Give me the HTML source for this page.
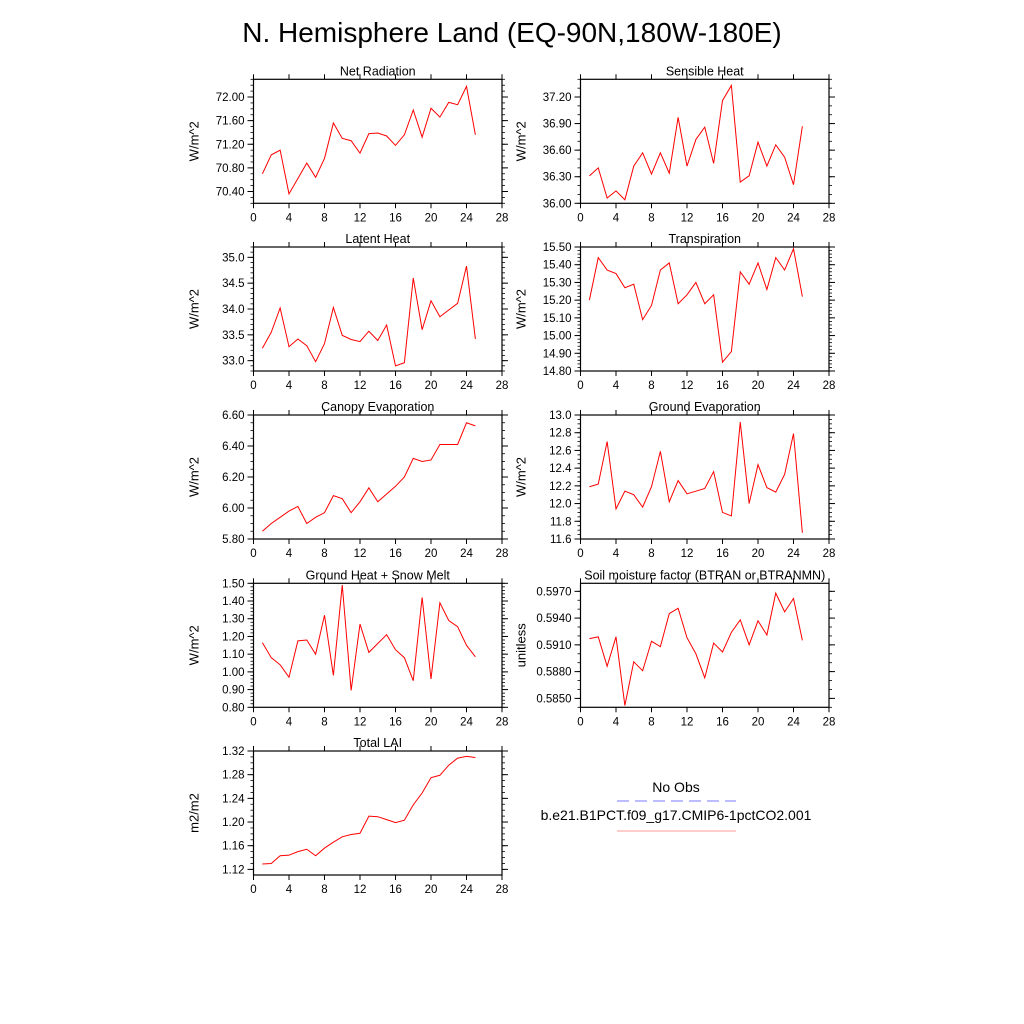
<!DOCTYPE html>
<html><head><meta charset="utf-8"><style>
html,body{margin:0;padding:0;background:#fff;}
svg{display:block;font-family:"Liberation Sans",Arial,sans-serif;}
</style></head><body>
<svg id="c" width="1024" height="1024" viewBox="0 0 1024 1024">
<text x="512" y="42" text-anchor="middle" font-size="28">N. Hemisphere Land (EQ-90N,180W-180E)</text>
<g>
<text x="676" y="792" text-anchor="middle" font-size="14">No Obs</text>
<line x1="617" y1="801" x2="736" y2="801" stroke="#7a7aff" stroke-width="1" stroke-dasharray="12,6"/>
<text x="676" y="820" text-anchor="middle" font-size="14">b.e21.B1PCT.f09_g17.CMIP6-1pctCO2.001</text>
<line x1="617" y1="831" x2="736" y2="831" stroke="#f99" stroke-width="1"/>
</g>
</svg>
<script>
const years = [1,2,3,4,5,6,7,8,9,10,11,12,13,14,15,16,17,18,19,20,21,22,23,24,25];
const xTicks = [0,4,8,12,16,20,24,28];
const netRad = [70.70,71.02,71.10,70.36,70.62,70.88,70.64,70.96,71.56,71.30,71.26,71.05,71.38,71.39,71.34,71.18,71.36,71.78,71.32,71.81,71.66,71.91,71.87,72.18,71.36];
const sensible = [36.31,36.40,36.06,36.14,36.04,36.42,36.57,36.33,36.57,36.34,36.97,36.42,36.72,36.86,36.45,37.16,37.33,36.24,36.31,36.69,36.42,36.66,36.52,36.21,36.87];
const latent = [33.24,33.55,34.02,33.27,33.42,33.29,32.98,33.33,34.03,33.49,33.41,33.37,33.57,33.39,33.69,32.90,32.96,34.60,33.60,34.16,33.85,33.98,34.11,34.83,33.42];
const transp = [15.20,15.44,15.37,15.35,15.27,15.29,15.09,15.17,15.37,15.41,15.18,15.23,15.30,15.18,15.23,14.85,14.91,15.36,15.29,15.41,15.26,15.44,15.37,15.49,15.22];
const canopy = [5.85,5.90,5.94,5.98,6.01,5.90,5.94,5.97,6.08,6.06,5.97,6.04,6.13,6.04,6.09,6.14,6.20,6.32,6.30,6.31,6.41,6.41,6.41,6.55,6.53];
const groundEvap = [12.19,12.22,12.70,11.94,12.14,12.10,11.96,12.19,12.59,12.02,12.26,12.11,12.14,12.17,12.36,11.90,11.86,12.92,12.00,12.44,12.18,12.13,12.33,12.79,11.67];
const groundHeat = [1.165,1.08,1.04,0.97,1.175,1.18,1.10,1.32,0.98,1.49,0.895,1.27,1.11,1.16,1.21,1.125,1.08,0.95,1.42,0.96,1.39,1.29,1.255,1.15,1.085];
const soilMoist = [0.5917,0.5919,0.5886,0.5919,0.5842,0.5891,0.5881,0.5914,0.5908,0.5945,0.5951,0.5918,0.5900,0.5873,0.5912,0.5902,0.5924,0.5938,0.5910,0.5937,0.5921,0.5968,0.5947,0.5962,0.5915];
const lai = [1.129,1.130,1.143,1.144,1.150,1.154,1.143,1.156,1.166,1.175,1.179,1.181,1.210,1.209,1.204,1.199,1.203,1.229,1.249,1.275,1.279,1.296,1.308,1.311,1.309];

const panels = [
 {name:'net-radiation',title:'Net Radiation',unit:'W/m^2',data:netRad,col:0,row:0,ymin:70.2,ymax:72.3,t0:70.4,step:0.4,minor:0.1,dec:2},
 {name:'sensible-heat',title:'Sensible Heat',unit:'W/m^2',data:sensible,col:1,row:0,ymin:36.0,ymax:37.4,t0:36.0,step:0.3,minor:0.1,dec:2},
 {name:'latent-heat',title:'Latent Heat',unit:'W/m^2',data:latent,col:0,row:1,ymin:32.8,ymax:35.2,t0:33.0,step:0.5,minor:0.1,dec:1},
 {name:'transpiration',title:'Transpiration',unit:'W/m^2',data:transp,col:1,row:1,ymin:14.8,ymax:15.5,t0:14.8,step:0.1,minor:0.02,dec:2},
 {name:'canopy-evaporation',title:'Canopy Evaporation',unit:'W/m^2',data:canopy,col:0,row:2,ymin:5.8,ymax:6.6,t0:5.8,step:0.2,minor:0.05,dec:2},
 {name:'ground-evaporation',title:'Ground Evaporation',unit:'W/m^2',data:groundEvap,col:1,row:2,ymin:11.6,ymax:13.0,t0:11.6,step:0.2,minor:0.05,dec:1},
 {name:'ground-heat-snow-melt',title:'Ground Heat + Snow Melt',unit:'W/m^2',data:groundHeat,col:0,row:3,ymin:0.8,ymax:1.5,t0:0.8,step:0.1,minor:0.02,dec:2},
 {name:'soil-moisture-factor',title:'Soil moisture factor (BTRAN or BTRANMN)',unit:'unitless',data:soilMoist,col:1,row:3,ymin:0.5840,ymax:0.5979,t0:0.585,step:0.003,minor:0.001,dec:4},
 {name:'total-lai',title:'Total LAI',unit:'m2/m2',data:lai,col:0,row:4,ymin:1.1105,ymax:1.32,t0:1.12,step:0.04,minor:0.01,dec:2}
];
const NS='http://www.w3.org/2000/svg';
const svg=document.getElementById('c');
function mk(tag,attrs,parent){const e=document.createElementNS(NS,tag);for(const k in attrs)e.setAttribute(k,attrs[k]);parent.appendChild(e);return e;}
const colX=[253.5,580.5], W=248.5, H=124, rowY=[79.3,247,415,583.3,751];
panels.forEach(p=>{
 const x0=colX[p.col], y0=rowY[p.row], x1=x0+W, y1=y0+H;
 const sx=v=>x0+(v-0)/28*W;
 const sy=v=>y1-(v-p.ymin)/(p.ymax-p.ymin)*H;
 const g=mk('g',{},svg);
 
 
 const fr=mk('rect',{x:x0,y:y0,width:W,height:H,fill:'none',stroke:'#000','stroke-width':1.2},g);
 
 
 const t=mk('text',{x:(x0+x1)/2,y:y0-4,'text-anchor':'middle','font-size':12.5},g);
 t.textContent=p.title;
 
 
 const yl=mk('text',{x:0,y:0,'text-anchor':'middle','font-size':13,transform:`translate(${x0-55},${(y0+y1)/2}) rotate(-90)`},g);
 yl.textContent=p.unit;
 
 
 xTicks.forEach(v=>{
  const X=sx(v);
  mk('line',{x1:X,y1:y1,x2:X,y2:y1+5,stroke:'#000'},g);
  mk('line',{x1:X,y1:y0,x2:X,y2:y0-5,stroke:'#000'},g);
  const l=mk('text',{x:X,y:y1+18,'text-anchor':'middle','font-size':11.5},g);
  l.textContent=v;
  
  
 });
 const eps=1e-9;
 for(let v=Math.ceil((p.ymin-eps)/p.minor)*p.minor; v<=p.ymax+eps; v+=p.minor){
  const Y=sy(v);
  mk('line',{x1:x0,y1:Y,x2:x0-3,y2:Y,stroke:'#000','stroke-width':0.8},g);
  mk('line',{x1:x1,y1:Y,x2:x1+3,y2:Y,stroke:'#000','stroke-width':0.8},g);
 }
 for(let i=0;;i++){
  const v=p.t0+i*p.step; if(v>p.ymax+eps)break;
  const Y=sy(v);
  mk('line',{x1:x0,y1:Y,x2:x0-6,y2:Y,stroke:'#000'},g);
  mk('line',{x1:x1,y1:Y,x2:x1+6,y2:Y,stroke:'#000'},g);
  const l=mk('text',{x:x0-9,y:Y+4,'text-anchor':'end','font-size':11.5},g);
  l.textContent=v.toFixed(p.dec);
  
  
 }
 const pts=p.data.map((v,i)=>sx(years[i]).toFixed(2)+','+sy(v).toFixed(2)).join(' ');
 const ln=mk('polyline',{points:pts,fill:'none',stroke:'#f00','stroke-width':1},g);
 
 
});
</script>
</body></html>
